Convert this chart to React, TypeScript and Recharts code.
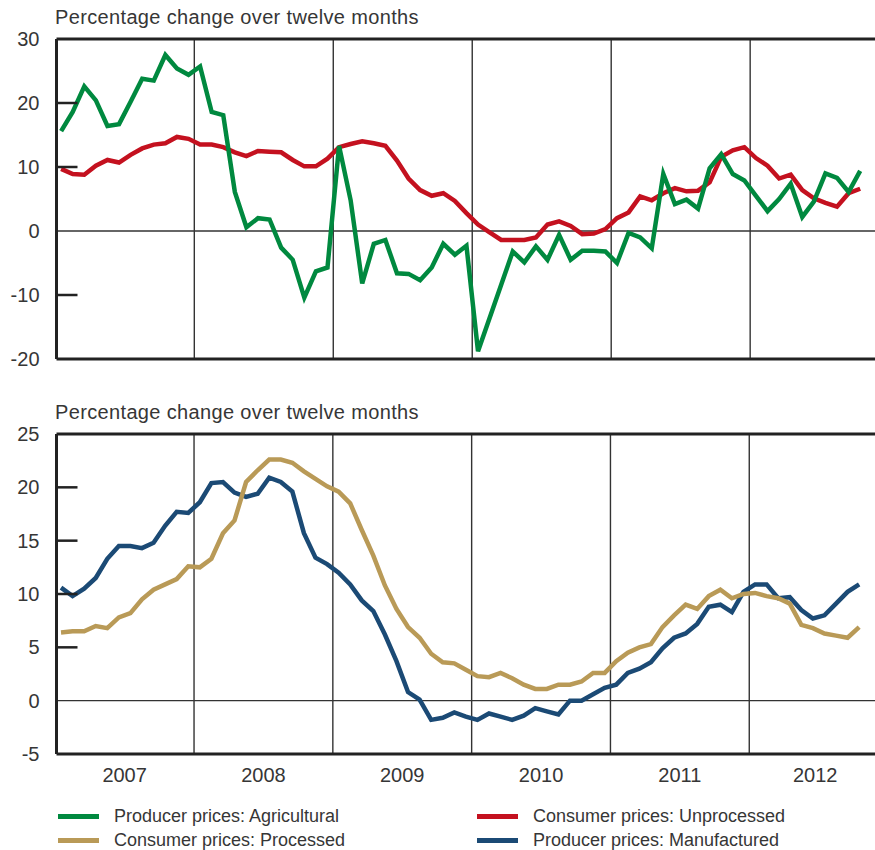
import React from 'react';
import { LineChart, Line, XAxis, YAxis, ReferenceLine } from 'recharts';

// Monthly data, Jan 2007 .. Oct 2012 (70 months)
const years = ['2007', '2008', '2009', '2010', '2011', '2012'];
const yearTickPos = [5.5, 17.5, 29.5, 41.5, 53.5, 65.2];
const yearBoundaries = [11.5, 23.5, 35.5, 47.5, 59.5];

const agricultural = [
  15.6, 18.6, 22.6, 20.4, 16.4, 16.7, 20.2, 23.8, 23.5, 27.5, 25.4, 24.4,
  25.7, 18.6, 18.1, 6.1, 0.6, 2.0, 1.8, -2.6, -4.5, -10.4, -6.3, -5.7,
  13.3, 4.8, -8.2, -2.0, -1.4, -6.6, -6.7, -7.7, -5.7, -2.0, -3.7, -2.3,
  -18.8, -13.6, -8.4, -3.2, -4.9, -2.4, -4.5, -0.6, -4.5, -3.1, -3.1, -3.2,
  -5.0, -0.3, -1.0, -2.7, 8.9, 4.2, 4.9, 3.5, 9.8, 12.0, 8.9, 7.9,
  5.5, 3.1, 5.0, 7.4, 2.2, 4.6, 9.0, 8.3, 6.1, 9.4,
];

const unprocessed = [
  9.7, 8.9, 8.8, 10.2, 11.1, 10.7, 11.9, 12.9, 13.5, 13.7, 14.7, 14.4,
  13.5, 13.5, 13.1, 12.3, 11.7, 12.5, 12.4, 12.3, 11.1, 10.1, 10.1, 11.3,
  13.1, 13.6, 14.0, 13.7, 13.3, 11.0, 8.2, 6.4, 5.5, 5.9, 4.7, 2.8,
  1.0, -0.2, -1.4, -1.4, -1.4, -1.0, 1.0, 1.5, 0.8, -0.5, -0.4, 0.3,
  2.0, 2.9, 5.4, 4.8, 5.9, 6.7, 6.2, 6.3, 7.6, 11.6, 12.6, 13.1,
  11.4, 10.2, 8.2, 8.8, 6.4, 5.1, 4.4, 3.8, 5.9, 6.6,
];

const processed = [
  6.4, 6.5, 6.5, 7.0, 6.8, 7.8, 8.2, 9.5, 10.4, 10.9, 11.4, 12.6,
  12.5, 13.3, 15.7, 16.9, 20.5, 21.6, 22.6, 22.6, 22.3, 21.5, 20.8, 20.1,
  19.6, 18.5, 16.0, 13.6, 10.8, 8.6, 6.9, 5.9, 4.4, 3.6, 3.5, 2.9,
  2.3, 2.2, 2.6, 2.1, 1.5, 1.1, 1.1, 1.5, 1.5, 1.8, 2.6, 2.6,
  3.7, 4.5, 5.0, 5.3, 6.9, 8.0, 9.0, 8.6, 9.8, 10.4, 9.6, 10.0,
  10.1, 9.8, 9.6, 9.1, 7.1, 6.8, 6.3, 6.1, 5.9, 6.9,
];

const manufactured = [
  10.6, 9.8, 10.5, 11.5, 13.3, 14.5, 14.5, 14.3, 14.8, 16.4, 17.7, 17.6,
  18.6, 20.4, 20.5, 19.5, 19.1, 19.4, 20.9, 20.5, 19.6, 15.7, 13.4, 12.8,
  12.0, 10.9, 9.4, 8.4, 6.2, 3.7, 0.8, 0.1, -1.8, -1.6, -1.1, -1.5,
  -1.8, -1.2, -1.5, -1.8, -1.4, -0.7, -1.0, -1.3, 0.0, 0.0, 0.6, 1.2,
  1.5, 2.6, 3.0, 3.6, 4.9, 5.9, 6.3, 7.2, 8.8, 9.0, 8.3, 10.2,
  10.9, 10.9, 9.6, 9.7, 8.5, 7.7, 8.0, 9.1, 10.2, 10.9,
];

const topTicks = [-20, -10, 0, 10, 20, 30];
const topMarks = [-10, 10, 20];
const bottomTicks = [-5, 0, 5, 10, 15, 20, 25];
const bottomMarks = [5, 10, 15, 20];

const topDomain: [number, number] = [-0.4, 70.28];
const bottomDomain: [number, number] = [-0.39, 70.37];
const topY: [number, number] = [-20, 30];
const bottomY: [number, number] = [-5, 25];

// Plot geometry (shared by chart margins and the inward tick-mark overlay)
const PLOT_LEFT = 56.5;
const PLOT_H = 320;
const TOP_PLOT_TOP = 39;
const BOTTOM_CHART_TOP = 380;
const BOTTOM_PLOT_TOP = 434;

const data = agricultural.map((v, i) => ({
  t: i,
  agri: v,
  unproc: unprocessed[i],
  proc: processed[i],
  manuf: manufactured[i],
}));

const FONT = '"Liberation Sans", Arial, Helvetica, sans-serif';
const TEXT = '#363636';
const GREEN = '#00893f';
const RED = '#c4111f';
const GOLD = '#b99a57';
const BLUE = '#1b4a75';
const FRAME = '#222222';

const renderYTick = (props: any) => {
  const x = Number(props.x);
  const y = Number(props.y);
  const v = Number(props.payload.value);
  return (
    <text
      x={x}
      y={y}
      textAnchor="end"
      dominantBaseline="central"
      fontSize={20}
      fill={TEXT}
      fontFamily={FONT}
    >
      {v}
    </text>
  );
};

const titleStyle: React.CSSProperties = {
  position: 'absolute',
  left: 55,
  fontSize: 20,
  lineHeight: '20px',
  color: TEXT,
  fontFamily: FONT,
  whiteSpace: 'nowrap',
  letterSpacing: '0.35px',
};

const legendItems = [
  { label: 'Producer prices: Agricultural', color: GREEN, left: 58, top: 816 },
  { label: 'Consumer prices: Processed', color: GOLD, left: 58, top: 840 },
  { label: 'Consumer prices: Unprocessed', color: RED, left: 477, top: 816 },
  { label: 'Producer prices: Manufactured', color: BLUE, left: 477, top: 840 },
];

const yToPx = (v: number, dom: [number, number], plotTop: number) =>
  plotTop + ((dom[1] - v) / (dom[1] - dom[0])) * PLOT_H;

export default function App() {
  return (
    <div
      style={{
        position: 'absolute',
        left: 0,
        top: 0,
        width: 875,
        height: 850,
        background: '#fff',
        fontFamily: FONT,
        overflow: 'hidden',
      }}
    >
      <div style={{ ...titleStyle, top: 7 }}>Percentage change over twelve months</div>
      <div style={{ position: 'absolute', left: 0, top: 0 }}>
        <LineChart
          width={875}
          height={TOP_PLOT_TOP + PLOT_H + 21}
          data={data}
          margin={{ top: TOP_PLOT_TOP, right: 0, bottom: 21, left: 0 }}
        >
          <XAxis type="number" dataKey="t" domain={topDomain} hide allowDataOverflow />
          <YAxis
            type="number"
            domain={topY}
            ticks={topTicks}
            width={PLOT_LEFT}
            tickSize={0}
            tickMargin={17}
            tickLine={false}
            axisLine={{ stroke: FRAME, strokeWidth: 3 }}
            tick={renderYTick}
            interval={0}
          />
          {yearBoundaries.map((b) => (
            <ReferenceLine key={b} x={b} stroke="#333" strokeWidth={1.4} />
          ))}
          <ReferenceLine y={0} stroke="#333" strokeWidth={1.3} />
          <ReferenceLine y={30} stroke={FRAME} strokeWidth={3} />
          <ReferenceLine y={-20} stroke={FRAME} strokeWidth={3} />
          <Line dataKey="unproc" stroke={RED} strokeWidth={4.5} dot={false} isAnimationActive={false} />
          <Line dataKey="agri" stroke={GREEN} strokeWidth={4.5} dot={false} isAnimationActive={false} />
        </LineChart>
      </div>

      <div style={{ ...titleStyle, top: 402 }}>Percentage change over twelve months</div>
      <div style={{ position: 'absolute', left: 0, top: BOTTOM_CHART_TOP }}>
        <LineChart
          width={875}
          height={420}
          data={data}
          margin={{ top: BOTTOM_PLOT_TOP - BOTTOM_CHART_TOP, right: 0, bottom: 0, left: 0 }}
        >
          <XAxis
            type="number"
            dataKey="t"
            domain={bottomDomain}
            ticks={yearTickPos}
            interval={0}
            allowDataOverflow
            axisLine={false}
            tickLine={false}
            tickSize={0}
            tickMargin={14}
            height={420 - (BOTTOM_PLOT_TOP - BOTTOM_CHART_TOP) - PLOT_H}
            tickFormatter={(v: number) => years[yearTickPos.indexOf(v)] ?? ''}
            tick={{ fontSize: 20, fill: TEXT, fontFamily: FONT }}
          />
          <YAxis
            type="number"
            domain={bottomY}
            ticks={bottomTicks}
            width={PLOT_LEFT}
            tickSize={0}
            tickMargin={17}
            tickLine={false}
            axisLine={{ stroke: FRAME, strokeWidth: 3 }}
            tick={renderYTick}
            interval={0}
          />
          {yearBoundaries.map((b) => (
            <ReferenceLine key={b} x={b} stroke="#333" strokeWidth={1.4} />
          ))}
          <ReferenceLine y={0} stroke="#333" strokeWidth={1.3} />
          <ReferenceLine y={25} stroke={FRAME} strokeWidth={3} />
          <ReferenceLine y={-5} stroke={FRAME} strokeWidth={3} />
          <Line dataKey="manuf" stroke={BLUE} strokeWidth={4.5} dot={false} isAnimationActive={false} />
          <Line dataKey="proc" stroke={GOLD} strokeWidth={4.5} dot={false} isAnimationActive={false} />
        </LineChart>
      </div>

      {/* inward axis tick marks */}
      <svg
        width={875}
        height={850}
        style={{ position: 'absolute', left: 0, top: 0, pointerEvents: 'none' }}
      >
        {topMarks.map((m) => {
          const y = yToPx(m, topY, TOP_PLOT_TOP);
          return <line key={'t' + m} x1={PLOT_LEFT} x2={PLOT_LEFT + 21} y1={y} y2={y} stroke={FRAME} strokeWidth={2.5} />;
        })}
        {bottomMarks.map((m) => {
          const y = yToPx(m, bottomY, BOTTOM_PLOT_TOP);
          return <line key={'b' + m} x1={PLOT_LEFT} x2={PLOT_LEFT + 21} y1={y} y2={y} stroke={FRAME} strokeWidth={2.5} />;
        })}
      </svg>

      {legendItems.map((it) => (
        <div key={it.label}>
          <div
            style={{
              position: 'absolute',
              left: it.left,
              top: it.top - 2.5,
              width: 41,
              height: 5,
              background: it.color,
            }}
          />
          <div
            style={{
              position: 'absolute',
              left: it.left + 56,
              top: it.top - 9,
              fontSize: 18,
              lineHeight: '18px',
              color: TEXT,
              fontFamily: FONT,
              whiteSpace: 'nowrap',
            }}
          >
            {it.label}
          </div>
        </div>
      ))}
    </div>
  );
}
